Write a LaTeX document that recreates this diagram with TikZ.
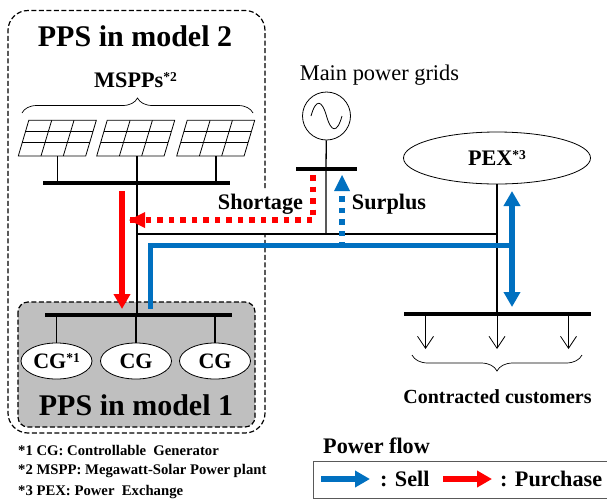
\documentclass[tikz,border=0pt]{standalone}
\usepackage{fontspec}
\setmainfont{Liberation Serif}
\usetikzlibrary{arrows.meta,decorations.pathreplacing,shapes.geometric}
\definecolor{sellblue}{RGB}{0,112,192}
\newcommand{\refmark}[1]{\raisebox{0.27em}{\fontsize{13.5}{14}\selectfont #1}}
\tikzset{
  bus/.style={line width=4pt},
  wire/.style={line width=1.3pt},
  load/.style={line width=0.8pt, -{Straight Barb[length=12pt,width=16pt,line width=0.8pt]}},
  sell/.style={sellblue, line width=5.8pt},
  buy/.style={red, line width=5.8pt},
  head/.style={-{Triangle[length=15pt,width=16pt]}},
  twohead/.style={{Triangle[length=15pt,width=16pt]}-{Triangle[length=15pt,width=16pt]}},
  dots/.style={line width=5.5pt, dash pattern=on 5.5pt off 6pt},
  zone/.style={line width=1.2pt, dash pattern=on 5pt off 2.5pt, rounded corners=20pt},
  genunit/.style={ellipse, draw, fill=white, line width=0.8pt, minimum width=71pt, minimum height=36pt, inner sep=0pt, font=\fontsize{22}{22}\selectfont\bfseries},
  curly/.style={decorate, line width=0.7pt},
  label/.style={font=\fontsize{22.2}{22}\selectfont\bfseries},
  note/.style={anchor=west, inner sep=0pt, font=\fontsize{14.7}{15}\selectfont\bfseries}
}
\begin{document}
\begin{tikzpicture}[x=1pt,y=-1pt]
  \useasboundingbox (0,0) rectangle (607,499);

  % PPS in model 2
  \draw[zone] (265,188) -- (265,10.5) -- (8,10.5) -- (8,433) -- (265,433) -- (265,233);
  \node[font=\fontsize{30}{30}\selectfont\bfseries] (titletwo) at (135,36) {PPS in model 2};
  \node[label] (mspplabel) at (135.5,80) {MSPPs\refmark{*2}};
  \draw[curly, decoration={brace,amplitude=15pt}] (22,113) -- (253,113);

  % PPS in model 1
  \draw[zone, fill=black!25, rounded corners=10pt] (18,302) rectangle (255,427);
  \node[font=\fontsize{30}{30}\selectfont\bfseries] (titleone) at (136,405) {PPS in model 1};

  % Solarpanels
  \foreach \px/\sx/\pname in {18.3/57.5/a, 96.7/137/b, 176.7/216/c} {
    \begin{scope}[shift={(\px,156)}]
      \draw[line width=0.8pt] (0,0) -- (67.4,0) -- (78,-35.7) -- (10.5,-35.7) -- cycle;
      \draw[line width=0.8pt] (4,-13.7) -- (71.4,-13.7);
      \draw[line width=0.8pt] (7.2,-24.3) -- (74.7,-24.3);
      \draw[line width=0.8pt] (22.7,0) -- (33.4,-35.7);
      \draw[line width=0.8pt] (45,0) -- (55.7,-35.7);
    \end{scope}
    \coordinate (panel\pname) at (\sx,156);
    \coordinate (tap\pname) at (\sx,183);
    \draw[wire] (panel\pname) -- (tap\pname);
  }

  % Busse
  \coordinate (topl) at (43,183);
  \coordinate (topr) at (230,183);
  \coordinate (topm) at (137,183);
  \coordinate (cgl) at (45,315);
  \coordinate (cgr) at (232,315);
  \coordinate (cgm) at (137,315);
  \coordinate (gridl) at (296,169);
  \coordinate (gridr) at (357,169);
  \coordinate (gridm) at (326,169);
  \coordinate (custl) at (404,314);
  \coordinate (custr) at (591,314);
  \coordinate (custm) at (497,314);
  \draw[bus] (topl) -- (topr);
  \draw[bus] (cgl) -- (cgr);
  \draw[bus] (gridl) -- (gridr);
  \draw[bus] (custl) -- (custr);

  % Generatoren
  \node[genunit] (cgone) at (56.5,361) {CG\refmark{*1}};
  \node[genunit] (cgtwo) at (136,361) {CG};
  \node[genunit] (cgthree) at (215,361) {CG};
  \draw[wire] (cgone.north |- cgl) -- (cgone);
  \draw[wire] (cgtwo.north |- cgl) -- (cgtwo);
  \draw[wire] (cgthree.north |- cgl) -- (cgthree);

  % Netz
  \node[circle, draw, line width=0.8pt, minimum size=48pt, inner sep=0pt] (source) at (326.5,116) {};
  \draw[line width=0.8pt] (311,116) .. controls (316,98) and (322,100) .. (326.5,116) .. controls (331,132) and (337,134) .. (342,116);
  \node[font=\fontsize{22.4}{22}\selectfont] (gridlabel) at (379.5,75) {Main power grids};
  \node[ellipse, draw, line width=0.8pt, minimum width=187pt, minimum height=52pt, inner sep=0pt, label] (pex) at (497,158) {PEX\refmark{*3}};
  \coordinate (linkl) at (137,234);
  \coordinate (linkm) at (326,234);
  \coordinate (linkr) at (497,234);
  \draw[wire] (topm) -- (cgm);
  \draw[wire] (source) -- (gridm) -- (linkm);
  \draw[wire] (linkl) -- (linkr);
  \draw[wire] (pex) -- (custm);

  % Verbraucher
  \foreach \lx/\lname in {425.5/a, 497/b, 568.5/c} {
    \coordinate (loadtop\lname) at (\lx,314);
    \coordinate (loadend\lname) at (\lx,349);
    \draw[load] (loadtop\lname) -- (loadend\lname);
  }
  \draw[curly, decoration={brace,amplitude=16pt}] (582,355) -- (412,355);
  \node[font=\fontsize{20}{20}\selectfont\bfseries] (custlabel) at (497.5,397) {Contracted customers};

  % Leistungsfluss
  \coordinate (buystart) at (122,191);
  \coordinate (buyend) at (122,309);
  \coordinate (shortstart) at (313,175);
  \coordinate (shortbend) at (313,220);
  \coordinate (shortend) at (129,220);
  \coordinate (sellstart) at (150.5,309);
  \coordinate (sellbend) at (150.5,245.5);
  \coordinate (sellright) at (512,245.5);
  \coordinate (pextop) at (512,191);
  \coordinate (custtop) at (512,307);
  \coordinate (surpstart) at (342,245.5);
  \coordinate (surpend) at (342,175);
  \draw[buy, head] (buystart) -- (buyend);
  \draw[red, dots] (shortstart) -- (shortbend) -- (shortend |- shortbend) -- ++(14,0);
  \fill[red] (shortend) -- ++(16,-8) -- ++(0,16) -- cycle;
  \draw[sell] (sellstart) -- (sellbend) -- (sellright);
  \draw[sell, twohead] (pextop) -- (custtop);
  \draw[sell, dots, dash phase=2pt] (surpstart) -- ++(0,-55);
  \fill[sellblue] (surpend) -- ++(-8,16) -- ++(16,0) -- cycle;
  \node[label] (shortlabel) at (260.5,204) {Shortage};
  \node[label] (surplabel) at (389,204) {Surplus};

  % Fussnoten
  \node[note] (noteone) at (18,450) {*1 CG: Controllable\ \ Generator};
  \node[note] (notetwo) at (18,471) {*2 MSPP: Megawatt-Solar Power plant};
  \node[note] (notethree) at (18,492) {*3 PEX: Power\ \ Exchange};

  % Legende
  \node[anchor=west, inner sep=0pt, label] (flowlabel) at (323,446) {Power flow};
  \draw[line width=1pt, black!65] (607,461) -- (313.5,461) -- (313.5,498) -- (607,498);
  \coordinate (sellkeya) at (321,479);
  \coordinate (sellkeyb) at (370,479);
  \coordinate (buykeya) at (443,479);
  \coordinate (buykeyb) at (492,479);
  \draw[sell, head] (sellkeya) -- (sellkeyb);
  \draw[buy, head] (buykeya) -- (buykeyb);
  \node[anchor=west, inner sep=0pt, label] (selllabel) at (380,479) {: Sell};
  \node[anchor=west, inner sep=0pt, label] (buylabel) at (500,479) {: Purchase};
\end{tikzpicture}
\end{document}
